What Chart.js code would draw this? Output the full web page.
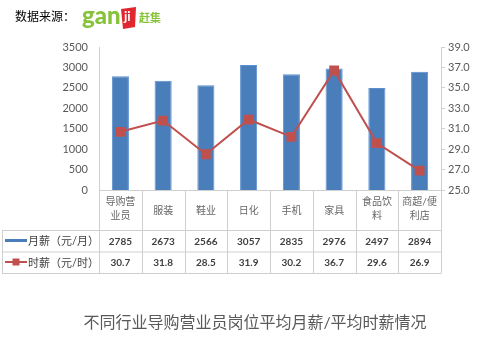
<!DOCTYPE html>
<html>
<head>
<meta charset="utf-8">
<script src="https://cdn.jsdelivr.net/npm/chart.js@4"></script>
<style>
  body { margin: 0; background: #fff; }
  canvas { display: block; }
</style>
</head>
<body>
<canvas id="chart" width="479" height="354"></canvas>
<script>
const categories = [['导购营', '业员'], ['服装'], ['鞋业'], ['日化'], ['手机'], ['家具'], ['食品饮', '料'], ['商超/便', '利店']];
const monthlyPay = [2785, 2673, 2566, 3057, 2835, 2976, 2497, 2894];
const hourlyPay = [30.7, 31.8, 28.5, 31.9, 30.2, 36.7, 29.6, 26.9];
const seriesNames = ['月薪（元/月）', '时薪（元/时）'];
const chartTitle = '不同行业导购营业员岗位平均月薪/平均时薪情况';
const sourceLabel = '数据来源：';

const FONT = "Lato, 'Noto Sans CJK SC', sans-serif";
const BLUE = '#4a7ebb';
const RED = '#c0504d';
const GRID = '#cfcfcf';

// data table under the plot, plus header and title
const tablePlugin = {
  id: 'table',
  afterDraw(chart) {
    const ctx = chart.ctx;
    const x = chart.scales.x;
    const area = chart.chartArea;
    const half = (x.getPixelForValue(1) - x.getPixelForValue(0)) / 2;
    const rows = [area.bottom, 230.5, 252, 273.5];
    ctx.save();
    ctx.strokeStyle = GRID;
    ctx.lineWidth = 1;
    ctx.beginPath();
    ctx.moveTo(area.left, rows[0] + 0.5);
    ctx.lineTo(area.right, rows[0] + 0.5);
    for (let r = 1; r < rows.length; r++) {
      ctx.moveTo(2, rows[r]);
      ctx.lineTo(area.right, rows[r]);
    }
    ctx.moveTo(2.5, rows[1]);
    ctx.lineTo(2.5, rows[3]);
    for (let i = 0; i <= categories.length; i++) {
      const bx = Math.round(x.getPixelForValue(i) - half) + 0.5;
      ctx.moveTo(bx, rows[0]);
      ctx.lineTo(bx, rows[3]);
    }
    ctx.stroke();

    ctx.textAlign = 'center';
    ctx.textBaseline = 'middle';
    categories.forEach((lines, i) => {
      const cx = x.getPixelForValue(i);
      ctx.fillStyle = '#666';
      ctx.font = '10px ' + FONT;
      if (lines.length === 1) {
        ctx.fillText(lines[0], cx, 211);
      } else {
        ctx.fillText(lines[0], cx, 202);
        ctx.fillText(lines[1], cx, 216);
      }
      ctx.fillStyle = '#404040';
      ctx.font = 'bold 10px ' + FONT;
      ctx.fillText(String(monthlyPay[i]), cx, 241.5);
      ctx.fillText(hourlyPay[i].toFixed(1), cx, 263);
    });

    // legend keys
    ctx.fillStyle = BLUE;
    ctx.fillRect(5, 239, 22, 3);
    ctx.strokeStyle = RED;
    ctx.lineWidth = 2;
    ctx.beginPath();
    ctx.moveTo(5, 262);
    ctx.lineTo(27, 262);
    ctx.stroke();
    ctx.fillStyle = RED;
    ctx.fillRect(12.5, 258.5, 7, 7);
    ctx.fillStyle = '#404040';
    ctx.textAlign = 'left';
    ctx.font = '11px ' + FONT;
    ctx.fillText(seriesNames[0], 28, 241.5);
    ctx.fillText(seriesNames[1], 28, 263);

    // title
    ctx.textAlign = 'center';
    ctx.fillStyle = '#595959';
    ctx.font = '16px ' + FONT;
    ctx.fillText(chartTitle, 255, 323);

    // source line and logo
    ctx.textAlign = 'left';
    ctx.fillStyle = '#000';
    ctx.font = '12px ' + FONT;
    ctx.fillText(sourceLabel, 15, 17);
    ctx.fillStyle = '#86c23a';
    ctx.font = '900 24px ' + FONT;
    ctx.fillText('gan', 82, 16);
    ctx.fillStyle = '#e0262e';
    ctx.beginPath();
    ctx.moveTo(121, 9);
    ctx.lineTo(136, 7);
    ctx.lineTo(135, 27);
    ctx.lineTo(123, 29);
    ctx.closePath();
    ctx.fill();
    ctx.fillStyle = '#fff';
    ctx.font = 'bold 13px ' + FONT;
    ctx.fillText('ji', 124, 17);
    ctx.fillStyle = '#86c23a';
    ctx.font = 'bold 11px ' + FONT;
    ctx.fillText('赶集', 139, 18);
    ctx.restore();
  }
};

new Chart(document.getElementById('chart'), {
  data: {
    labels: categories,
    datasets: [
      {
        type: 'line',
        label: seriesNames[1],
        data: hourlyPay,
        yAxisID: 'y1',
        borderColor: RED,
        backgroundColor: RED,
        borderWidth: 2,
        pointStyle: 'rect',
        pointRadius: 5.5,
        pointBackgroundColor: RED,
        pointBorderColor: RED,
        order: 0
      },
      {
        type: 'bar',
        label: seriesNames[0],
        data: monthlyPay,
        yAxisID: 'y',
        backgroundColor: BLUE,
        borderColor: '#5b8fd0',
        borderWidth: 1,
        categoryPercentage: 0.8,
        barPercentage: 0.5,
        order: 1
      }
    ]
  },
  options: {
    responsive: false,
    animation: false,
    layout: { padding: { top: 47, left: 0, right: 0, bottom: 0 } },
    plugins: {
      legend: { display: false },
      tooltip: { enabled: false }
    },
    scales: {
      x: {
        offset: true,
        grid: { display: false, drawTicks: false },
        border: { display: false },
        ticks: { display: false },
        afterFit: (s) => { s.height = 164; }
      },
      y: {
        position: 'left',
        min: 0,
        max: 3500,
        grid: { display: false, drawTicks: false },
        border: { display: true, color: GRID },
        ticks: {
          stepSize: 500,
          padding: 11,
          color: '#595959',
          font: { family: FONT, size: 11 },
          callback: (v) => String(v)
        },
        afterFit: (s) => { s.width = 99; }
      },
      y1: {
        position: 'right',
        min: 25,
        max: 39,
        grid: { display: true, drawOnChartArea: false, drawTicks: true, tickLength: 4, color: GRID },
        border: { display: true, color: GRID },
        ticks: {
          stepSize: 2,
          padding: 3,
          color: '#595959',
          font: { family: FONT, size: 11 },
          callback: (v) => v.toFixed(1)
        },
        afterFit: (s) => { s.width = 38; }
      }
    }
  },
  plugins: [tablePlugin]
});
</script>
</body>
</html>
